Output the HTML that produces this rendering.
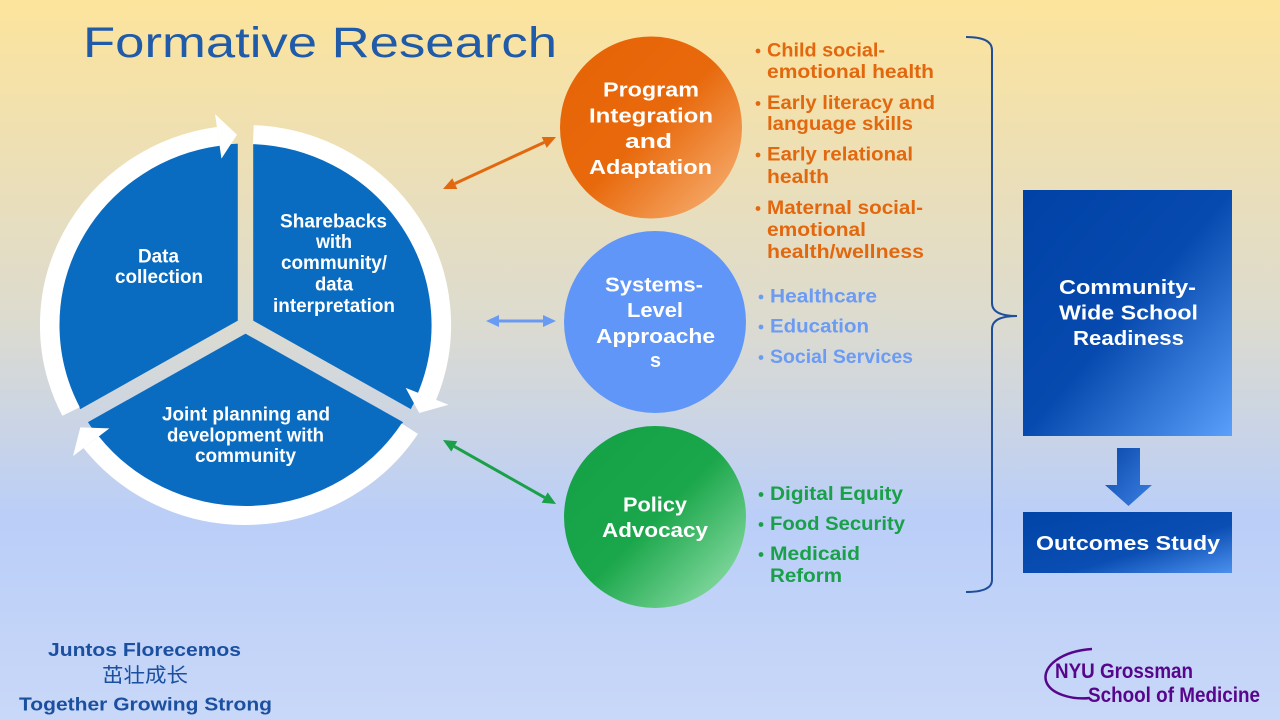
<!DOCTYPE html>
<html>
<head>
<meta charset="utf-8">
<style>
html,body{margin:0;padding:0;width:1280px;height:720px;overflow:hidden;}
svg{display:block;}
text{font-family:"Liberation Sans","Noto Sans CJK SC",sans-serif;}
</style>
</head>
<body>
<svg width="1280" height="720" viewBox="0 0 1280 720" xmlns="http://www.w3.org/2000/svg">
<defs>
  <linearGradient id="bg" x1="0" y1="0" x2="0" y2="1">
    <stop offset="0" stop-color="#FDE49C"/>
    <stop offset="0.45" stop-color="#DCDBD0"/>
    <stop offset="0.72" stop-color="#BACEF8"/>
    <stop offset="1" stop-color="#C9D8F8"/>
  </linearGradient>
  <linearGradient id="gOr" x1="0" y1="0" x2="1" y2="1">
    <stop offset="0" stop-color="#E66305"/>
    <stop offset="0.5" stop-color="#E8690C"/>
    <stop offset="1" stop-color="#F8B87E"/>
  </linearGradient>
  <linearGradient id="gGr" x1="0" y1="0" x2="1" y2="1">
    <stop offset="0" stop-color="#14A045"/>
    <stop offset="0.5" stop-color="#1AA64A"/>
    <stop offset="1" stop-color="#9FE6B5"/>
  </linearGradient>
  <linearGradient id="gBox" x1="0" y1="0" x2="1" y2="1">
    <stop offset="0" stop-color="#0042A6"/>
    <stop offset="0.5" stop-color="#074AAF"/>
    <stop offset="1" stop-color="#5A9FFA"/>
  </linearGradient>
  <linearGradient id="gBox2" x1="0" y1="0" x2="1" y2="1">
    <stop offset="0" stop-color="#0044A8"/>
    <stop offset="0.6" stop-color="#0A4EB3"/>
    <stop offset="1" stop-color="#4C90EE"/>
  </linearGradient>
  <linearGradient id="gArr" x1="0" y1="0" x2="1" y2="1">
    <stop offset="0" stop-color="#0A48AC"/>
    <stop offset="1" stop-color="#3B80E2"/>
  </linearGradient>
  <mask id="pieMask" maskUnits="userSpaceOnUse" x="-260" y="-260" width="520" height="520">
    <rect x="-260" y="-260" width="520" height="520" fill="#fff"/>
    <g stroke="#000" stroke-width="15">
      <line x1="0" y1="0" x2="0" y2="-260"/>
      <line x1="0" y1="0" x2="225.2" y2="130"/>
      <line x1="0" y1="0" x2="-225.2" y2="130"/>
    </g>
  </mask>
</defs>

<rect x="0" y="0" width="1280" height="720" fill="url(#bg)"/>

<!-- Title -->
<text x="83" y="57" font-size="43" fill="#1F5BA9" textLength="474" lengthAdjust="spacingAndGlyphs">Formative Research</text>

<!-- Cycle -->
<g transform="translate(245.5,325) scale(1.028,1)">
  <circle cx="0" cy="0" r="181.5" fill="#0A6CC1" mask="url(#pieMask)"/>
  <g fill="none" stroke="#fff" stroke-width="19">
    <path d="M -169.7 86.5 A 190.5 190.5 0 0 1 -26.5 -188.6"/>
    <path d="M 7.6 -190.35 A 190.5 190.5 0 0 1 176.6 71.4"/>
    <path d="M 159.8 103.7 A 190.5 190.5 0 0 1 -150.1 117.3"/>
  </g>
  <g fill="#fff">
    <polygon points="-23.4,-166.4 -29.6,-210.9 -8.3,-190.3"/>
    <polygon points="155.8,62.9 197.5,79.8 169.0,88.0"/>
    <polygon points="-132.4,103.4 -167.8,131.1 -160.7,102.4"/>
  </g>
</g>

<!-- Sector texts -->
<g fill="#fff" font-size="19" font-weight="bold">
  <text x="138" y="262.5" textLength="41" lengthAdjust="spacingAndGlyphs">Data</text>
  <text x="115" y="283" textLength="88" lengthAdjust="spacingAndGlyphs">collection</text>
  <text x="280" y="227.5" textLength="107" lengthAdjust="spacingAndGlyphs">Sharebacks</text>
  <text x="316" y="248" textLength="36" lengthAdjust="spacingAndGlyphs">with</text>
  <text x="281" y="269" textLength="106" lengthAdjust="spacingAndGlyphs">community/</text>
  <text x="315" y="290.5" textLength="38" lengthAdjust="spacingAndGlyphs">data</text>
  <text x="273" y="312" textLength="122" lengthAdjust="spacingAndGlyphs">interpretation</text>
  <text x="162" y="420.5" textLength="168" lengthAdjust="spacingAndGlyphs">Joint planning and</text>
  <text x="167" y="441.5" textLength="157" lengthAdjust="spacingAndGlyphs">development with</text>
  <text x="195" y="462" textLength="101" lengthAdjust="spacingAndGlyphs">community</text>
</g>

<!-- Double arrows -->
<g>
  <line x1="454.8" y1="183.6" x2="544.2" y2="142.4" stroke="#E2680F" stroke-width="3"/>
  <polygon points="556,137 546.7,147.9 541.7,137.0" fill="#E2680F"/>
  <polygon points="443,189 457.3,189.0 452.3,178.2" fill="#E2680F"/>

  <line x1="498" y1="321" x2="544" y2="321" stroke="#6A9BF2" stroke-width="3"/>
  <polygon points="556,321 543,315 543,327" fill="#6A9BF2"/>
  <polygon points="486,321 499,315 499,327" fill="#6A9BF2"/>

  <line x1="454.3" y1="446.4" x2="544.7" y2="497.6" stroke="#19A048" stroke-width="3"/>
  <polygon points="556,504 541.7,502.8 547.7,492.4" fill="#19A048"/>
  <polygon points="443,440 451.3,451.6 457.3,441.2" fill="#19A048"/>
</g>

<!-- Circles -->
<circle cx="651" cy="127.5" r="91" fill="url(#gOr)"/>
<circle cx="655" cy="322" r="91" fill="#6096F7"/>
<circle cx="655" cy="517" r="91" fill="url(#gGr)"/>

<g fill="#fff" font-size="20" font-weight="bold">
  <text x="603" y="96.5" textLength="96" lengthAdjust="spacingAndGlyphs">Program</text>
  <text x="589" y="122.5" textLength="124" lengthAdjust="spacingAndGlyphs">Integration</text>
  <text x="625" y="148" textLength="47" lengthAdjust="spacingAndGlyphs">and</text>
  <text x="589" y="174" textLength="123" lengthAdjust="spacingAndGlyphs">Adaptation</text>

  <text x="605" y="291.5" textLength="98" lengthAdjust="spacingAndGlyphs">Systems-</text>
  <text x="627" y="317" textLength="56" lengthAdjust="spacingAndGlyphs">Level</text>
  <text x="596" y="343" textLength="119" lengthAdjust="spacingAndGlyphs">Approache</text>
  <text x="650" y="367" textLength="11" lengthAdjust="spacingAndGlyphs">s</text>

  <text x="623" y="511.5" textLength="64" lengthAdjust="spacingAndGlyphs">Policy</text>
  <text x="602" y="537" textLength="106" lengthAdjust="spacingAndGlyphs">Advocacy</text>
</g>

<!-- Orange bullets -->
<g fill="#E2680F" font-size="19" font-weight="bold">
  <circle cx="758" cy="51" r="2.4"/>
  <circle cx="758" cy="103.5" r="2.4"/>
  <circle cx="758" cy="155" r="2.4"/>
  <circle cx="758" cy="208.5" r="2.4"/>
  <text x="767" y="56.5" textLength="118" lengthAdjust="spacingAndGlyphs">Child social-</text>
  <text x="767" y="78" textLength="167" lengthAdjust="spacingAndGlyphs">emotional health</text>
  <text x="767" y="109" textLength="168" lengthAdjust="spacingAndGlyphs">Early literacy and</text>
  <text x="767" y="130" textLength="146" lengthAdjust="spacingAndGlyphs">language skills</text>
  <text x="767" y="160.5" textLength="146" lengthAdjust="spacingAndGlyphs">Early relational</text>
  <text x="767" y="183" textLength="62" lengthAdjust="spacingAndGlyphs">health</text>
  <text x="767" y="214" textLength="156" lengthAdjust="spacingAndGlyphs">Maternal social-</text>
  <text x="767" y="236" textLength="99" lengthAdjust="spacingAndGlyphs">emotional</text>
  <text x="767" y="258" textLength="157" lengthAdjust="spacingAndGlyphs">health/wellness</text>
</g>

<!-- Blue bullets -->
<g fill="#6B9BF3" font-size="19" font-weight="bold">
  <circle cx="761" cy="297" r="2.4"/>
  <circle cx="761" cy="327" r="2.4"/>
  <circle cx="761" cy="357.5" r="2.4"/>
  <text x="770" y="302.5" textLength="107" lengthAdjust="spacingAndGlyphs">Healthcare</text>
  <text x="770" y="332.5" textLength="99" lengthAdjust="spacingAndGlyphs">Education</text>
  <text x="770" y="363" textLength="143" lengthAdjust="spacingAndGlyphs">Social Services</text>
</g>

<!-- Green bullets -->
<g fill="#19A048" font-size="19" font-weight="bold">
  <circle cx="761" cy="494.5" r="2.4"/>
  <circle cx="761" cy="524.5" r="2.4"/>
  <circle cx="761" cy="554.5" r="2.4"/>
  <text x="770" y="500" textLength="133" lengthAdjust="spacingAndGlyphs">Digital Equity</text>
  <text x="770" y="530" textLength="135" lengthAdjust="spacingAndGlyphs">Food Security</text>
  <text x="770" y="560" textLength="90" lengthAdjust="spacingAndGlyphs">Medicaid</text>
  <text x="770" y="582" textLength="72" lengthAdjust="spacingAndGlyphs">Reform</text>
</g>

<!-- Brace -->
<path d="M 966 37 Q 992 37 992 50 L 992 303 Q 992 316 1017 316 Q 992 316 992 329 L 992 580 Q 992 592 966 592" fill="none" stroke="#1F4E9A" stroke-width="2"/>

<!-- Community box -->
<rect x="1023" y="190" width="209" height="246" fill="url(#gBox)"/>
<g fill="#fff" font-size="20" font-weight="bold">
  <text x="1059" y="294" textLength="137" lengthAdjust="spacingAndGlyphs">Community-</text>
  <text x="1059" y="319.5" textLength="139" lengthAdjust="spacingAndGlyphs">Wide School</text>
  <text x="1073" y="345" textLength="111" lengthAdjust="spacingAndGlyphs">Readiness</text>
</g>

<!-- Down arrow -->
<polygon points="1117,448 1140,448 1140,485 1152,485 1128.5,506 1105,485 1117,485" fill="url(#gArr)"/>

<!-- Outcomes box -->
<rect x="1023" y="512" width="209" height="61" fill="url(#gBox2)"/>
<text x="1036" y="550" fill="#fff" font-size="20" font-weight="bold" textLength="184" lengthAdjust="spacingAndGlyphs">Outcomes Study</text>

<!-- Bottom-left text -->
<g fill="#1B4F9F" font-size="18" font-weight="bold">
  <text x="48" y="656" textLength="193" lengthAdjust="spacingAndGlyphs">Juntos Florecemos</text>
  <text x="19" y="710.5" textLength="253" lengthAdjust="spacingAndGlyphs">Together Growing Strong</text>
</g>
<text x="102" y="682" fill="#1B4F9F" font-size="20" textLength="86" lengthAdjust="spacingAndGlyphs" style="font-family:'WenQuanYi Zen Hei','Noto Sans CJK SC',sans-serif;">茁壮成长</text>

<!-- NYU logo -->
<path d="M 1092 649 C 1062 651, 1042 666, 1046 681 C 1050 694, 1072 700, 1090 698" fill="none" stroke="#57068C" stroke-width="2.5"/>
<g fill="#57068C" font-size="21" font-weight="bold">
  <text x="1055" y="678" textLength="138" lengthAdjust="spacingAndGlyphs">NYU Grossman</text>
  <text x="1088" y="702" textLength="172" lengthAdjust="spacingAndGlyphs">School of Medicine</text>
</g>
</svg>
</body>
</html>
